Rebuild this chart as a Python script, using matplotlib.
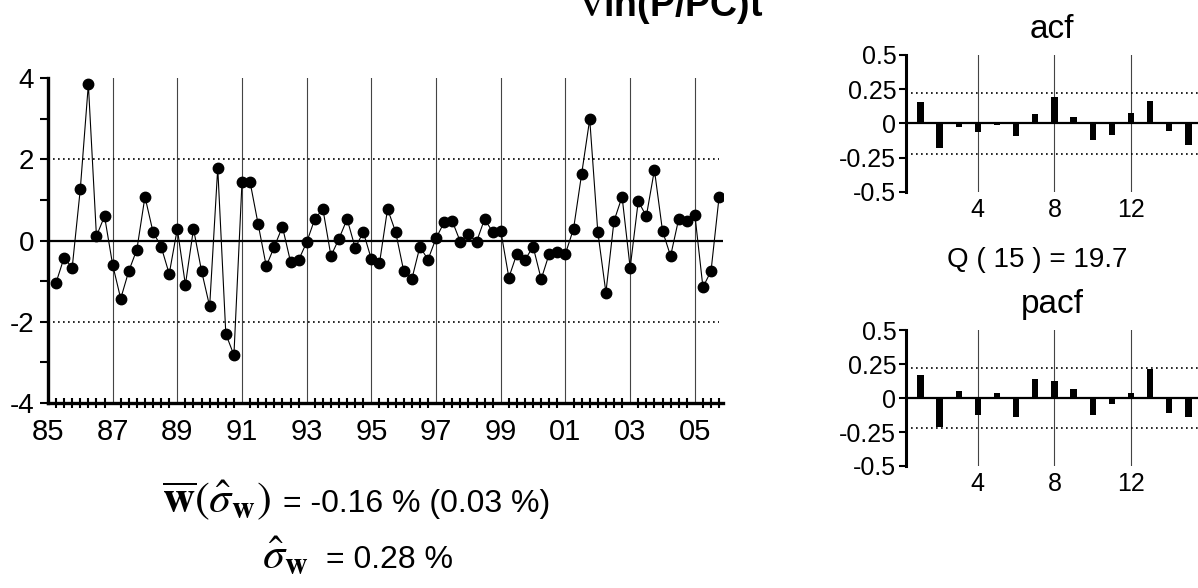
import numpy as np
import matplotlib
matplotlib.use('Agg')
import matplotlib.pyplot as plt
from matplotlib.ticker import MultipleLocator

plt.rcParams['font.family'] = ['Liberation Sans', 'DejaVu Sans']
plt.rcParams['mathtext.fontset'] = 'stix'

# quarterly growth, 1985Q2 .. 2005Q4
values = [-1.04, -0.42, -0.67, 1.26, 3.85, 0.11, 0.60, -0.59, -1.43, -0.75,
          -0.22, 1.08, 0.21, -0.15, -0.82, 0.29, -1.09, 0.29, -0.75, -1.62,
          1.79, -2.30, -2.82, 1.44, 1.44, 0.40, -0.63, -0.15, 0.34, -0.52,
          -0.48, -0.04, 0.53, 0.78, -0.38, 0.05, 0.53, -0.18, 0.21, -0.46,
          -0.56, 0.78, 0.21, -0.75, -0.95, -0.15, -0.47, 0.06, 0.45, 0.48,
          -0.03, 0.16, -0.03, 0.53, 0.21, 0.24, -0.91, -0.32, -0.47, -0.15,
          -0.95, -0.32, -0.27, -0.32, 0.29, 1.64, 2.99, 0.21, -1.28, 0.48,
          1.08, -0.67, 0.97, 0.60, 1.74, 0.24, -0.38, 0.53, 0.48, 0.64,
          -1.15, -0.75, 1.08]
start_year = 1985.25
year_labels = ['85', '87', '89', '91', '93', '95', '97', '99', '01', '03', '05']
year_ticks = [1985, 1987, 1989, 1991, 1993, 1995, 1997, 1999, 2001, 2003, 2005]

lags = list(range(1, 16))
acf_vals = [0.16, -0.18, -0.025, -0.065, -0.01, -0.094, 0.067, 0.195, 0.05,
            -0.12, -0.082, 0.08, 0.163, -0.053, -0.16]
pacf_vals = [0.17, -0.21, 0.054, -0.125, 0.037, -0.143, 0.14, 0.123, 0.066,
             -0.125, -0.04, 0.037, 0.214, -0.113, -0.143]
conf_band = 0.22
q_stat = 'Q ( 15 ) = 19.7'

t = start_year + np.arange(len(values)) * 0.25

fig = plt.figure(figsize=(11.98, 5.88), dpi=100)

# main series
ax = fig.add_axes([0.040, 0.3146, 0.5635, 0.5525])
ax.set_xlim(1985, 2005.87)
ax.set_ylim(-4, 4)
for yr in year_ticks[1:]:
    ax.axvline(yr, color='#444444', lw=0.8, zorder=1)
ax.hlines([-2, 2], 1985, 2005.75, colors='black', linestyles=(0, (1, 2)), lw=1.2, zorder=1)
ax.axhline(0, color='black', lw=1.6, zorder=2)
ax.plot(t, values, color='black', lw=0.8, marker='o', markersize=7.5, zorder=3)

ax.spines['top'].set_visible(False)
ax.spines['right'].set_visible(False)
ax.spines['left'].set_linewidth(2.4)
ax.spines['bottom'].set_linewidth(2.4)
ax.set_yticks([-4, -2, 0, 2, 4])
ax.set_yticklabels(['-4', '-2', '0', '2', '4'])
ax.yaxis.set_minor_locator(MultipleLocator(1))
ax.tick_params(axis='y', which='both', direction='out', length=6, width=1.5, labelsize=20, pad=4)
ax.set_xticks(year_ticks)
ax.set_xticklabels(year_labels)
ax.xaxis.set_minor_locator(MultipleLocator(0.25))
ax.tick_params(axis='x', which='major', length=0, labelsize=21, pad=11)
ax.tick_params(axis='x', which='minor', direction='inout', length=7, width=1.5)

# acf / pacf panels
def corr_panel(rect, vals, title):
    a = fig.add_axes(rect)
    a.set_xlim(0.25, 15.5)
    a.set_ylim(-0.5, 0.5)
    for lg in [4, 8, 12]:
        a.axvline(lg, color='#444444', lw=0.8, zorder=1)
    a.axhline(conf_band, color='black', ls=(0, (1, 2)), lw=1.2, zorder=1)
    a.axhline(-conf_band, color='black', ls=(0, (1, 2)), lw=1.2, zorder=1)
    a.axhline(0, color='black', lw=1.6, zorder=2)
    a.bar(lags, vals, width=0.33, color='black', zorder=3)
    for s in ['top', 'right', 'bottom']:
        a.spines[s].set_visible(False)
    a.spines['left'].set_linewidth(2.2)
    a.set_yticks([0.5, 0.25, 0, -0.25, -0.5])
    a.set_yticklabels(['0.5', '0.25', '0', '-0.25', '-0.5'])
    a.tick_params(axis='y', direction='out', length=5, width=1.5, labelsize=18, pad=2)
    a.set_xticks([4, 8, 12])
    a.tick_params(axis='x', length=0, labelsize=18, pad=4)
    a.set_title(title, fontsize=24, pad=12)
    return a

corr_panel([0.7563, 0.6735, 0.2437, 0.233], acf_vals, 'acf')
corr_panel([0.7563, 0.2075, 0.2437, 0.231], pacf_vals, 'pacf')
fig.text(0.866, 0.557, q_stat, ha='center', va='center', fontsize=20)

# title (cut at top edge)
fig.text(0.56, 0.972, r'$\mathbf{\nabla}$ln(P/PC)t', ha='center', va='baseline',
         fontsize=27, fontweight='bold')

# summary statistics
fig.text(0.135, 0.129, r'$\overline{\mathbf{w}}(\hat{\sigma}_{\mathbf{w}})$',
         ha='left', va='baseline', fontsize=32)
fig.text(0.236, 0.129, '= -0.16 % (0.03 %)', ha='left', va='baseline', fontsize=23)
fig.text(0.219, 0.034, r'$\hat{\sigma}_{\mathbf{w}}$', ha='left', va='baseline', fontsize=32)
fig.text(0.272, 0.034, '= 0.28 %', ha='left', va='baseline', fontsize=23)

fig.savefig('out.png', dpi=100)
